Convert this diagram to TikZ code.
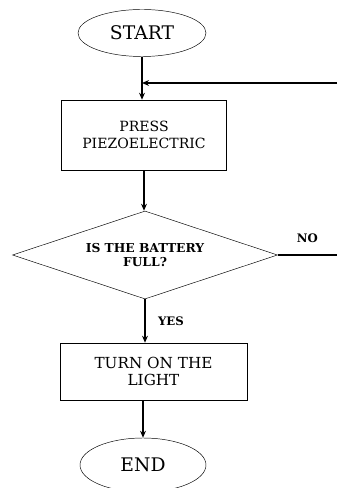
\documentclass[tikz,border=0pt]{standalone}
\usepackage{fontspec}
\setmainfont{DejaVu Serif}
\usetikzlibrary{shapes.geometric,arrows.meta}
\tikzset{
  term/.style={draw, thin, ellipse, inner sep=0pt},
  stepbox/.style={draw, thin, rectangle, align=center, inner sep=0pt},
  ask/.style={draw, thin, diamond, aspect=3, align=center, inner sep=0pt},
  flow/.style={-{Stealth[length=6pt,width=5pt]}, line width=1.6pt},
  tag/.style={font=\fontsize{10}{12}\selectfont\bfseries},
}
\begin{document}
\begin{tikzpicture}[x=0.03cm, y=-0.03cm]
  \useasboundingbox (0,0) rectangle (337,488);
  \node[term, minimum width=3.84cm, minimum height=1.41cm] (start) at (142,33)
    {\fontsize{16}{18}\selectfont START};
  \node[stepbox, minimum width=4.95cm, minimum height=2.1cm] (press) at (144,135)
    {\fontsize{12}{16}\selectfont PRESS\\[2pt] \fontsize{12}{16}\selectfont PIEZOELECTRIC};
  \node[ask, minimum width=7.95cm, minimum height=2.64cm] (batt) at (145,255)
    {\fontsize{10.5}{12}\selectfont\bfseries IS THE BATTERY\\
     \fontsize{10.5}{12}\selectfont\bfseries FULL?};
  \node[stepbox, minimum width=5.61cm, minimum height=1.71cm] (light) at (153.5,371.5)
    {\fontsize{13}{16}\selectfont TURN ON THE\\[2pt] \fontsize{13}{16}\selectfont LIGHT};
  \node[term, minimum width=3.78cm, minimum height=1.62cm] (end) at (143,465)
    {\fontsize{16}{18}\selectfont END};
  \coordinate (join) at (142,83); \coordinate (back) at (337,83);
  \coordinate (out) at (337,255);
  \draw[flow] (start.south) -- (start.south |- press.north);
  \draw[flow] (back) -- (join);
  \draw[flow] (press.south) -- (press.south |- batt.north);
  \draw[line width=1.6pt] (batt.east) -- (out) node[tag, pos=0.5, above=6pt] {NO};
  \draw[flow] (batt.south) -- (batt.south |- light.north) node[tag, midway, right=7pt]
    {YES};
  \draw[flow] (143,400) -- (end.north);
\end{tikzpicture}
\end{document}
